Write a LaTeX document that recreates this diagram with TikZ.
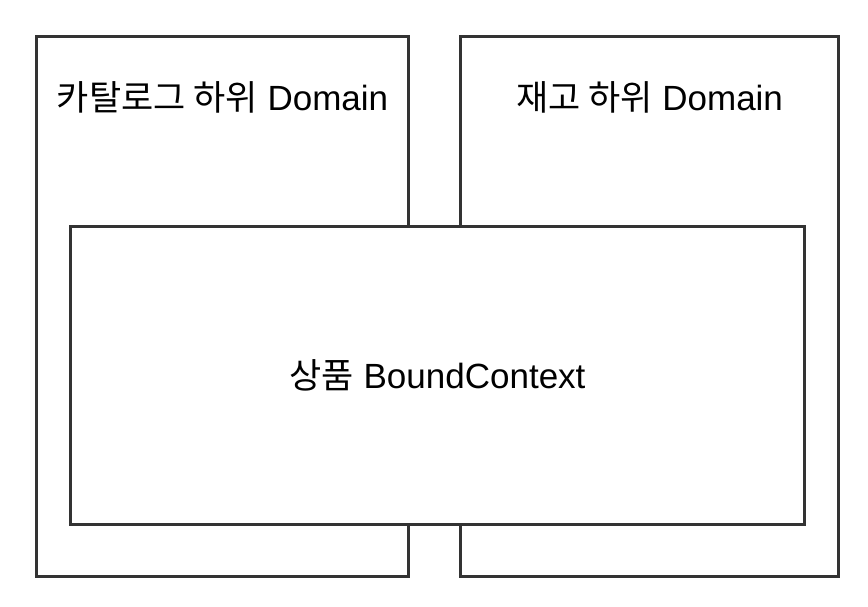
\documentclass[tikz,border=0pt]{standalone}
\usepackage{fontspec}
\setmainfont{Liberation Sans}
\newfontfamily\kr{Noto Sans CJK KR}
\usepackage{tikz}
\usetikzlibrary{positioning}

\definecolor{linegray}{HTML}{333333}

\begin{document}
\begin{tikzpicture}[x=1pt, y=-1pt]

    \useasboundingbox (0,0) rectangle (868,606);

    % Domain boxes
    \node[draw=linegray, line width=3pt, fill=white, anchor=north west, minimum width=372pt, minimum height=540pt, inner sep=0pt] (catalog) at (35,35) {};
    \node[draw=linegray, line width=3pt, fill=white, anchor=north west, minimum width=378pt, minimum height=540pt, inner sep=0pt] (stock) at (459,35) {};

    % Bounded context box
    \node[draw=linegray, line width=3pt, fill=white, anchor=north west, minimum width=734pt, minimum height=298pt, inner sep=0pt] (product) at (69,225) {};

    % Labels
    \node[font=\fontsize{35}{40}\selectfont] (catalogtext) at (catalog.north |- 0,97) {{\kr 카탈로그 하위} Domain};
    \node[font=\fontsize{35}{40}\selectfont] (stocktext) at (stock.north |- 0,97) {{\kr 재고 하위} Domain};
    \node[font=\fontsize{35}{40}\selectfont] (producttext) at (product.center) {{\kr 상품} BoundContext};

\end{tikzpicture}
\end{document}
